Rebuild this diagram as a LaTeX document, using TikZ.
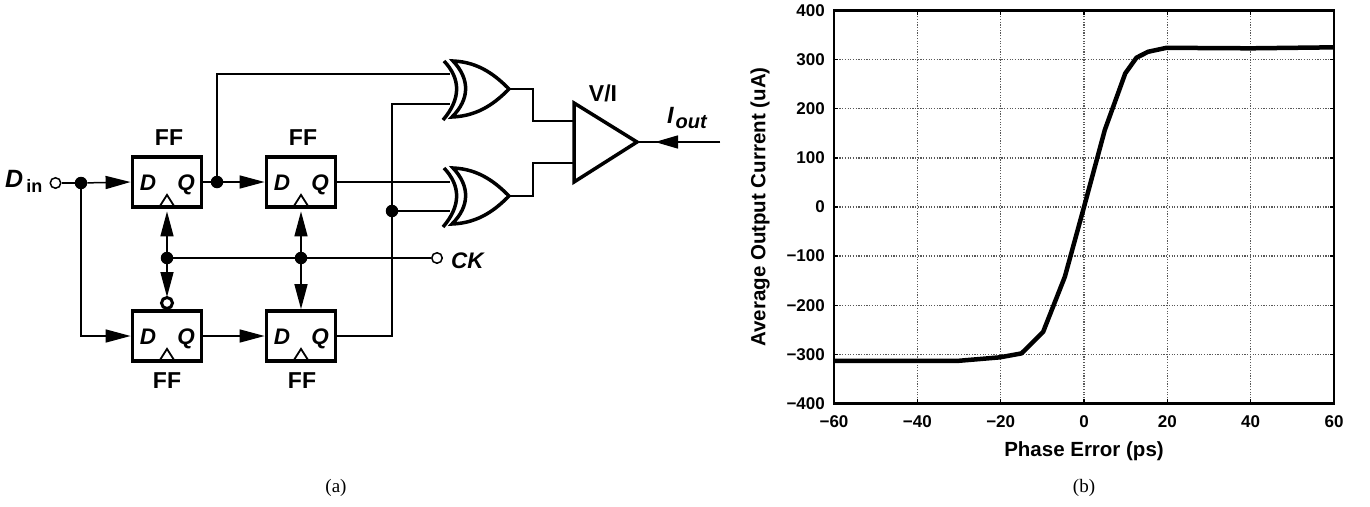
\documentclass[tikz,border=0pt]{standalone}
\usepackage{fontspec}
\setmainfont{Liberation Sans}
\newfontfamily\capfont{Liberation Serif}
\usetikzlibrary{arrows.meta}
\tikzset{
  wire/.style={line width=1.5pt},
  flow/.style={wire,-{Triangle[length=25pt,width=13pt]}},
  ffbox/.style={draw,line width=3.8pt,minimum width=69pt,minimum height=50pt,inner sep=0pt},
  jdot/.style={circle,fill,inner sep=0pt,minimum size=12.5pt},
  opendot/.style={circle,draw,fill=white,line width=1.5pt,inner sep=0pt,minimum size=10.5pt},
  bubble/.style={circle,draw,fill=white,line width=3pt,inner sep=0pt,minimum size=11pt},
  lb/.style={font=\bfseries\fontsize{23}{26}\selectfont,inner sep=0pt},
  lbit/.style={font=\bfseries\itshape\fontsize{22.5}{26}\selectfont,inner sep=0pt,anchor=base},
  tick/.style={font=\bfseries\fontsize{17}{20}\selectfont,inner sep=0pt},
  axlb/.style={font=\bfseries\fontsize{20.5}{24}\selectfont,inner sep=0pt},
  capt/.style={font=\capfont\fontsize{19}{22}\selectfont,inner sep=0pt},
  griddot/.style={line width=1.5pt,gray!70!black,dash pattern=on 1.2pt off 1.5pt}
}
\begin{document}
\begin{tikzpicture}[x=1pt,y=-1pt]
\useasboundingbox (0,0) rectangle (1370,506);
% flip-flops
\foreach \ffn/\fx/\fy in {ffa/167/182,ffb/301/182,ffc/167/336,ffd/301/336}{
\node[ffbox](\ffn)at(\fx,\fy){};
\node[lbit](\ffn D)at(\fx-19,\fy+8){D};
\node[lbit](\ffn Q)at(\fx+19,\fy+8){Q};
\draw[line width=1.8pt]([xshift=-7pt,yshift=3pt]\ffn.south)--++(7,-11)--++(7,11);
}
\node[lb](fla)at(169,138){FF};
\node[lb](flb)at(303,138){FF};
\node[lb](flc)at(167,381){FF};
\node[lb](fld)at(302,381){FF};
% xor gates
\foreach \gn/\gy in {xa/89,xb/196}{
\draw[line width=3.5pt](444,\gy-28)..controls(461,\gy-10)and(461,\gy+10)..(443,\gy+31);
\draw[line width=3.5pt](453,\gy-28)..controls(470,\gy-10)and(470,\gy+10)..(452,\gy+28)
  ..controls(480,\gy+27)and(497,\gy+12)..(509,\gy)..controls(497,\gy-12)and(480,\gy-27)..(453,\gy-28)--cycle;
\coordinate(\gn t)at(509,\gy);
\coordinate(\gn i)at(450,\gy-15);
\coordinate(\gn j)at(450,\gy+15);
}
% amplifier
\node[lb](vi)at(603,93){V/I};
\draw[line width=3.5pt,line join=miter](574,103)--(574,182)--(637,142)--cycle;
\coordinate(ampa)at(574,121);
\coordinate(ampb)at(574,163);
\coordinate(ampo)at(637,142);
\coordinate(iend)at(720,142);
\coordinate(itip)at(655,142);
\draw[wire](xat)-|(533,121)--(ampa);
\draw[wire](xbt)-|(533,163)--(ampb);
\draw[wire](iend)--(ampo);
\draw[wire,-{Triangle[length=23pt,width=13pt]}](iend)--(itip);
\node[lbit,anchor=base west,font=\bfseries\itshape\fontsize{23.5}{26}\selectfont](iout)at(667,123){I\kern2pt\raisebox{-5.5pt}{\fontsize{20}{22}\selectfont out}};
% inputs
\node[opendot](din)at(55.5,183){};
\node[inner sep=0pt,anchor=base west](dinl)at(5,187){\fontsize{25}{28}\bfseries\itshape D\kern3pt\raisebox{-5.5pt}{\fontsize{18}{20}\bfseries\upshape in}};
\node[jdot](ja)at(81,183){};
\node[jdot](jb)at(217,182){};
\node[jdot](jc)at(167,258){};
\node[jdot](jd)at(301,258){};
\node[jdot](je)at(392,211){};
\node[opendot](ck)at(437,258){};
\node[lbit,anchor=base west](ckl)at(451,268){CK};
\node[bubble](bub)at(167,303){};
\draw[wire](din)--(ja);
\draw[flow](ja)--(ffa.west);
\draw[flow](ja)|-(ffc.west);
\draw[wire](ffa.east)--(jb);
\draw[flow](jb)--(ffb.west);
\draw[flow](ffc.east)--(ffd.west);
\draw[wire](jb)|-(xai);
\draw[wire](ffb.east)--(ffb.east-|xbi);
\draw[wire](ffd.east)-|(je)|-(xaj);
\draw[wire](je)--(xbj);
\draw[wire](jc)--(ck);
\draw[flow,shorten >=2.5pt](jc)--(ffa.south);
\draw[flow,shorten >=2.5pt](jd)--(ffb.south);
\draw[flow,shorten >=-1pt](jc)--(bub.north);
\draw[flow](jd)--(ffd.north);
\node[capt](capa)at(336,488){(a)};
% plot
\begin{scope}[shift={(1084,207)},x=4.1667pt,y=0.4913pt]
\draw[griddot,xstep=20,ystep=100](-60,-400)grid(60,400);
\foreach \tx/\xlb in {-60/−60,-40/−40,-20/−20,0/0,20/20,40/40,60/60}{
\draw[wire](\tx,-400)--++(0,9);\draw[wire](\tx,400)--++(0,-9);
\node[tick](xt\tx)at(\tx,-400)[yshift=-18pt]{\xlb};}
\foreach \ty/\ylb in {-400/−400,-300/−300,-200/−200,-100/−100,0/0,100/100,200/200,300/300,400/400}{
\draw[wire](-60,\ty)--++(1,0);\draw[wire](60,\ty)--++(-1,0);
\node[tick,anchor=east](yt\ty)at(-60,\ty)[xshift=-9pt]{\ylb};}
\draw[line width=2.5pt](-60,-400)rectangle(60,400);
\draw[line width=4.5pt,line join=round]plot coordinates{(-60,-313)(-30,-313)(-20.2,-306)(-15,-298)(-9.8,-254)(-4.6,-142)(0,0)(5,157)(9.9,272)(12.6,304)(15.4,316)(19.8,324)(40,323)(60,325)};
\end{scope}
\node[axlb](xlab)at(1084,451){Phase Error (ps)};
\node[axlb,rotate=90](ylab)at(760,207){Average Output Current (uA)};
\node[capt](capb)at(1084,488){(b)};
\end{tikzpicture}
\end{document}
